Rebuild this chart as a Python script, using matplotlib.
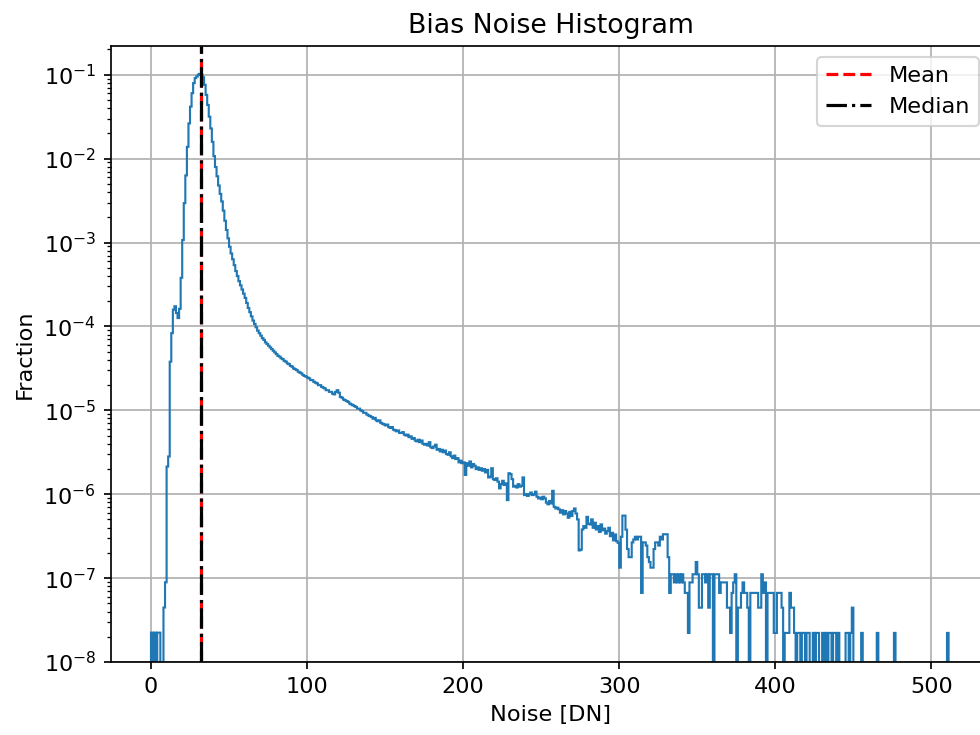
import numpy as np
import matplotlib
matplotlib.use("Agg")
import matplotlib.pyplot as plt

plt.rcParams['font.size'] = 10.5

# total number of pixels in the frame (1 count ~ 2.2e-8)
n_pix = 4.5e7

# bin edges in DN, unit-width bins
edges = np.arange(0, 513)

# log10(fraction) for bins 0..299 (nan = empty bin)
nan = np.nan
log_frac_core = [
    -7.65, nan, -7.65, nan, -7.65, -7.65, nan, nan, -7.35, -7.05,
    -5.67, -5.55, -4.42, -4.08, -3.80, -3.76, -3.84, -3.90, -3.79, -3.42,
    -2.97, -2.53, -2.20, -1.86, -1.58, -1.38, -1.22, -1.10, -1.04, -1.02,
    -1.00, -0.99, -1.00, -1.03, -1.12, -1.24, -1.36, -1.50, -1.64, -1.80,
    -1.97, -2.10, -2.21, -2.32, -2.42, -2.51, -2.62, -2.74, -2.85, -2.95,
    -3.05, -3.13, -3.20, -3.27, -3.34, -3.40, -3.46, -3.51, -3.56, -3.61,
    -3.66, -3.72, -3.78, -3.83, -3.88, -3.93, -3.97, -4.01, -4.05, -4.08,
    -4.11, -4.14, -4.16, -4.19, -4.21, -4.23, -4.25, -4.27, -4.29, -4.31,
    -4.33, -4.35, -4.36, -4.38, -4.39, -4.41, -4.42, -4.44, -4.45, -4.47,
    -4.48, -4.50, -4.51, -4.52, -4.54, -4.55, -4.56, -4.58, -4.59, -4.60,
    -4.61, -4.62, -4.64, -4.64, -4.66, -4.67, -4.68, -4.70, -4.70, -4.72,
    -4.73, -4.74, -4.76, -4.76, -4.78, -4.78, -4.80, -4.81, -4.78, -4.76,
    -4.79, -4.84, -4.85, -4.87, -4.88, -4.89, -4.90, -4.92, -4.93, -4.94,
    -4.95, -4.96, -4.98, -4.98, -5.00, -5.01, -5.03, -5.03, -5.05, -5.06,
    -5.07, -5.08, -5.10, -5.09, -5.12, -5.13, -5.12, -5.15, -5.16, -5.17,
    -5.18, -5.17, -5.20, -5.21, -5.20, -5.23, -5.24, -5.25, -5.24, -5.27,
    -5.27, -5.26, -5.29, -5.30, -5.29, -5.32, -5.31, -5.34, -5.33, -5.36,
    -5.37, -5.35, -5.38, -5.36, -5.40, -5.41, -5.40, -5.42, -5.38, -5.44,
    -5.45, -5.43, -5.41, -5.47, -5.46, -5.49, -5.47, -5.50, -5.48, -5.52,
    -5.53, -5.50, -5.55, -5.57, -5.54, -5.58, -5.57, -5.62, -5.60, -5.63,
    -5.62, -5.77, -5.63, -5.66, -5.61, -5.68, -5.64, -5.66, -5.70, -5.68,
    -5.71, -5.69, -5.72, -5.70, -5.74, -5.71, -5.80, -5.79, -5.69, -5.82,
    -5.83, -5.81, -5.85, -5.93, -5.88, -5.84, -5.89, -5.87, -6.07, -5.75,
    -5.76, -5.82, -5.91, -5.90, -5.92, -5.88, -5.91, -5.90, -5.80, -6.01,
    -6.00, -6.02, -6.00, -5.98, -6.01, -6.00, -5.97, -6.03, -6.05, -6.04,
    -6.06, -6.03, -6.05, -6.10, -6.12, -6.08, -6.11, -5.96, -6.15, -6.17,
    -6.16, -6.18, -6.22, -6.19, -6.24, -6.20, -6.23, -6.28, -6.21, -6.26,
    -6.20, -6.17, -6.23, -6.30, -6.67, -6.66, -6.42, -6.38, -6.40, -6.27,
    -6.35, -6.36, -6.30, -6.40, -6.34, -6.42, -6.38, -6.45, -6.36, -6.43,
    -6.41, -6.47, -6.44, -6.40, -6.50, -6.46, -6.55, -6.48, -6.56, -6.58,
]

# raw pixel counts for bins 300..511 (sparse tail)
tail_counts = [
    6, 14, 25, 25, 17, 10, 8, 8, 12, 13,
    14, 13, 14, 14, 3, 12, 12, 11, 8, 7,
    6, 6, 10, 12, 12, 11, 14, 13, 15, 15,
    15, 8, 3, 5, 5, 4, 5, 4, 5, 4,
    5, 4, 3, 3, 1, 4, 4, 5, 5, 7,
    5, 2, 2, 5, 5, 4, 5, 2, 5, 5,
    0, 5, 5, 5, 3, 4, 4, 4, 4, 2,
    2, 1, 3, 4, 5, 0, 2, 2, 3, 4,
    3, 3, 2, 0, 3, 3, 3, 3, 3, 2,
    2, 5, 3, 4, 0, 3, 3, 3, 3, 1,
    1, 3, 3, 3, 2, 0, 1, 1, 1, 3,
    2, 2, 1, 0, 1, 1, 0, 1, 1, 0,
    1, 1, 0, 0, 1, 0, 1, 1, 0, 0,
    1, 0, 1, 0, 1, 1, 0, 1, 1, 0,
    1, 0, 0, 0, 0, 1, 1, 0, 1, 2,
    0, 0, 0, 0, 0, 1, 0, 0, 0, 0,
    0, 0, 0, 0, 0, 1, 0, 0, 0, 0,
    0, 0, 0, 0, 0, 0, 1, 0, 0, 0,
    0, 0, 0, 0, 0, 0, 0, 0, 0, 0,
    0, 0, 0, 0, 0, 0, 0, 0, 0, 0,
    0, 0, 0, 0, 0, 0, 0, 0, 0, 0,
    1, 0,
]

noise_mean = 32.1
noise_median = 32.0

frac_core = np.nan_to_num(10.0 ** np.array(log_frac_core), nan=0.0)
frac_tail = np.array(tail_counts) / n_pix
fraction = np.concatenate([frac_core, frac_tail])

fig = plt.figure(figsize=(6.4, 4.8), dpi=153.125)
ax = fig.add_axes([0.1133, 0.0993, 0.897, 0.8381])

ax.hist(edges[:-1], bins=edges, weights=fraction, histtype='step', log=True)
ax.axvline(noise_mean, color='r', linestyle='--', label='Mean')
ax.axvline(noise_median, color='k', linestyle='-.', label='Median')

ax.set_ylim(1e-8, 0.22)
ax.set_xlabel("Noise [DN]")
ax.set_ylabel("Fraction")
ax.set_title("Bias Noise Histogram")
ax.grid(True)
ax.legend(loc='upper right')

fig.savefig("out.png", dpi=153.125)
